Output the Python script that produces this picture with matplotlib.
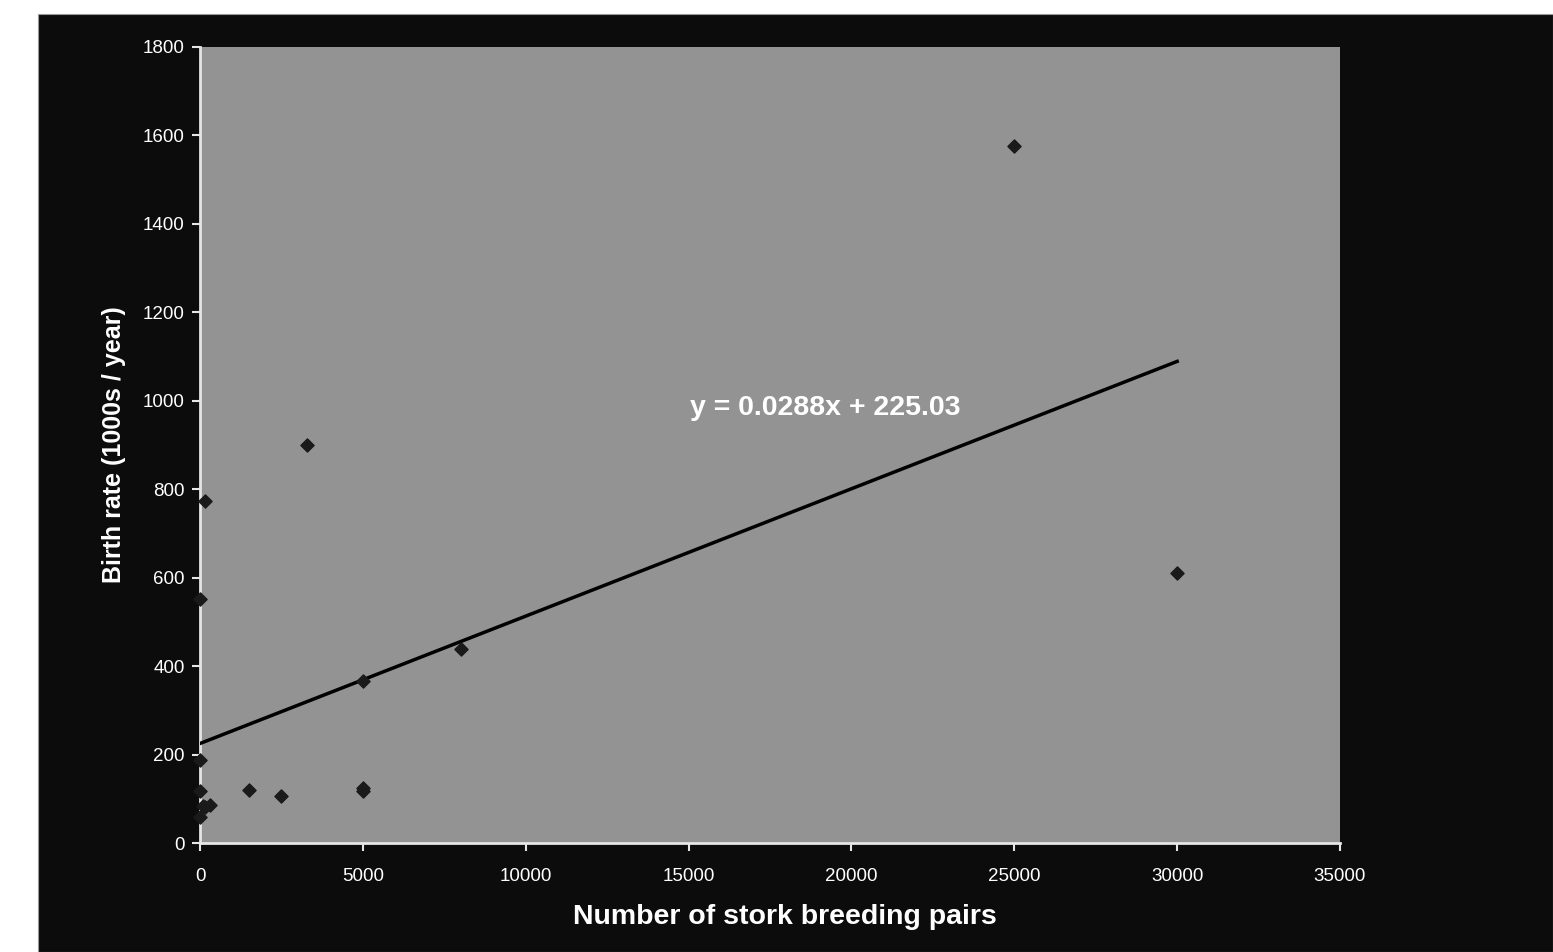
import matplotlib
matplotlib.use("Agg")
import matplotlib.pyplot as plt
from matplotlib.patches import Rectangle
import numpy as np

plt.rcParams['font.family'] = ['Liberation Sans', 'DejaVu Sans']

# Data: stork breeding pairs vs birth rate (1000s/year)
storks = [100, 300, 1, 5000, 9, 140, 3300, 2500, 4, 5000, 5, 30000, 1500, 5000, 8000, 150, 25000]
births = [83, 87, 118, 117, 59, 774, 901, 106, 188, 124, 551, 610, 120, 367, 439, 82, 1576]
slope = 0.0288
intercept = 225.03
eq_label = "y = 0.0288x + 225.03"
x_ticks = [0, 5000, 10000, 15000, 20000, 25000, 30000, 35000]
y_ticks = [0, 200, 400, 600, 800, 1000, 1200, 1400, 1600, 1800]

W, H = 1553, 952
fig = plt.figure(figsize=(W / 100, H / 100), dpi=100)
fig.patch.set_facecolor('white')
# black panel
fig.patches.append(Rectangle((38 / W, 0), 1 - 38 / W, 1 - 14 / H, transform=fig.transFigure,
                             facecolor='#0c0c0c', edgecolor='#9a9a9a', linewidth=0.8, zorder=-10))

ax = fig.add_axes([200 / W, 109 / H, 1140 / W, 796 / H])
ax.set_zorder(1)
ax.set_facecolor('#939393')
ax.set_xlim(0, 35000)
ax.set_ylim(0, 1800)
ax.set_xticks(x_ticks)
ax.set_yticks(y_ticks)
ax.set_xticklabels([str(t) for t in x_ticks])
ax.set_yticklabels([str(t) for t in y_ticks])
for s in ['top', 'right']:
    ax.spines[s].set_visible(False)
for s in ['left', 'bottom']:
    ax.spines[s].set_color('#e6e6e6')
    ax.spines[s].set_linewidth(2)
ax.tick_params(colors='#e6e6e6', labelcolor='white', labelsize=13.5, length=6, width=1.5, direction='out')
ax.tick_params(axis='x', pad=12)
ax.tick_params(axis='y', pad=5)

# trend line
xl = np.array([0, max(storks)])
ax.plot(xl, slope * xl + intercept, color='black', linewidth=2.5, zorder=3)
ax.scatter(storks, births, marker='D', s=45, color='#1a1a1a', zorder=4, clip_on=False)

ax.text(19200, 984, eq_label, color='white', fontsize=20.5, fontweight='bold',
        ha='center', va='center')

ax.set_xlabel("Number of stork breeding pairs", color='white', fontsize=20.5, fontweight='bold', labelpad=14)
ax.xaxis.label.set_x(0.513)
ax.set_ylabel("Birth rate (1000s / year)", color='white', fontsize=18, fontweight='bold', labelpad=12)

fig.savefig("out.png", dpi=100, facecolor=fig.get_facecolor())
